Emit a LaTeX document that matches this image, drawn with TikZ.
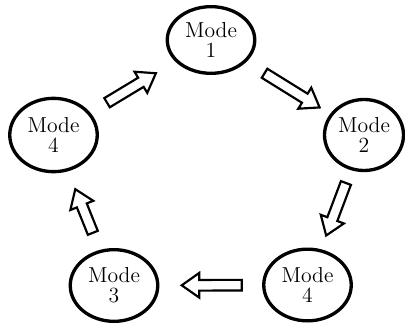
\documentclass[tikz,border=0pt]{standalone}
\usepackage{tikz}
\usetikzlibrary{calc,shapes.geometric}
\def\modearrow(#1)(#2)(#3:#4){%
  \coordinate (tl) at ($(#1)!#3!(#2)$);
  \coordinate (hd) at ($(#1)!#4!(#2)$);
  \coordinate (nk) at ($(hd)!10.5pt!(tl)$);
  \draw[line width=1.3pt, fill=white, line join=miter]
    ($(tl)!3.2pt!90:(hd)$) -- ($(nk)!3.2pt!90:(hd)$) -- ($(nk)!7.4pt!90:(hd)$) -- (hd)
    -- ($(nk)!7.4pt!-90:(hd)$) -- ($(nk)!3.2pt!-90:(hd)$) -- ($(tl)!3.2pt!-90:(hd)$) -- cycle;}

\begin{document}
\begin{tikzpicture}[x=0.6pt, y=-0.6pt,
    mode/.style={ellipse, draw, line width=2pt, align=center, inner sep=0pt,
      minimum width=52.5pt, minimum height=43pt, font=\fontsize{13}{12}\selectfont}]
		%%%%% START %%%%%
		\useasboundingbox (0, 0) rectangle (405, 325);
		
		\node[mode, minimum height=40pt] (m1) at (211, 40) {Mode\\1};
		\node[mode, minimum width=47.4pt, minimum height=42.6pt] (m2) at (364, 135) {Mode\\2};
		\node[mode] (m4r) at (307.5, 285) {Mode\\4};
		\node[mode] (m3) at (114, 285.5) {Mode\\3};
		\node[mode, minimum height=44pt] (m4l) at (53.5, 135) {Mode\\4};
		
		\modearrow(m4l)(m1)(0.34:0.65)
		\modearrow(m1)(m2)(0.35:0.71)
		\modearrow(m2)(m4r)(0.32:0.67)
		\modearrow(m4r)(m3)(0.34:0.65)
		\modearrow(m3)(m4l)(0.35:0.64)
		
		%%%%% END %%%%%
	\end{tikzpicture}
\end{document}
